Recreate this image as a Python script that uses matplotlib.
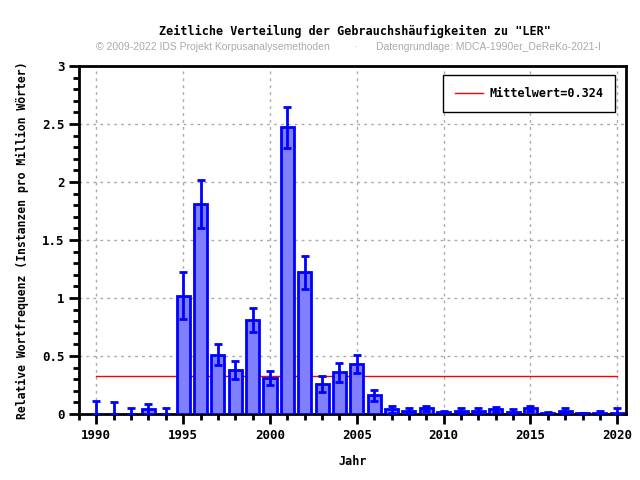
import numpy as np
import matplotlib
matplotlib.use('Agg')
import matplotlib.pyplot as plt
from matplotlib.ticker import MultipleLocator

years = list(range(1990, 2021))
werte = [0.0, 0.0, 0.0, 0.04, 0.0, 1.02, 1.81, 0.51, 0.38, 0.81,
         0.31, 2.47, 1.22, 0.26, 0.36, 0.43, 0.16, 0.04, 0.03, 0.05,
         0.02, 0.03, 0.03, 0.04, 0.02, 0.05, 0.01, 0.03, 0.005, 0.01,
         0.01]
fehler = [0.11, 0.10, 0.05, 0.05, 0.05, 0.20, 0.21, 0.09, 0.08, 0.10,
          0.06, 0.18, 0.14, 0.07, 0.08, 0.08, 0.05, 0.03, 0.02, 0.02,
          0.01, 0.02, 0.02, 0.02, 0.02, 0.02, 0.005, 0.02, 0.005, 0.02,
          0.04]
mittelwert = 0.324

mono = 'DejaVu Sans Mono'

fig = plt.figure(figsize=(6.4, 4.8), dpi=100)
ax = fig.add_axes([0.1234, 0.1375, 0.8547, 0.725])

unten = [min(e, w) for w, e in zip(werte, fehler)]
ax.bar(years, werte, width=0.75, color='#8080ff', edgecolor='#0000ff', linewidth=2, zorder=3)
ax.errorbar(years, werte, yerr=[unten, fehler], fmt='none', ecolor='#0000ff',
            elinewidth=2, capsize=3, capthick=2, zorder=4)
ax.plot([1990, 2020], [mittelwert, mittelwert], color='red', linewidth=1,
        label='Mittelwert=0.324', zorder=2)

ax.set_xlim(1989, 2020.5)
ax.set_ylim(0, 3)
ax.xaxis.set_major_locator(MultipleLocator(5))
ax.xaxis.set_minor_locator(MultipleLocator(1))
ax.yaxis.set_minor_locator(MultipleLocator(0.1))
ax.set_yticks([0, 0.5, 1, 1.5, 2, 2.5, 3])
ax.set_yticklabels(['0', '0.5', '1', '1.5', '2', '2.5', '3'])
ax.tick_params(which='major', direction='out', length=7, width=2, labelsize=9)
ax.tick_params(which='minor', direction='out', length=4, width=2)
for lab in ax.get_xticklabels() + ax.get_yticklabels():
    lab.set_fontfamily(mono)
    lab.set_fontweight('bold')
ax.grid(True, which='major', linestyle=(0, (2, 3)), color='#aaaaaa', linewidth=1, zorder=0)
for s in ax.spines.values():
    s.set_linewidth(2)

ax.set_xlabel('Jahr', fontfamily=mono, fontweight='bold', fontsize=8.5, labelpad=10)
ax.set_ylabel('Relative Wortfrequenz (Instanzen pro Million Wörter)', fontfamily=mono,
              fontweight='bold', fontsize=8.3, labelpad=9)

leg = ax.legend(loc='upper right', prop={'family': mono, 'weight': 'bold', 'size': 8.5},
                fancybox=False, framealpha=1, edgecolor='black', borderpad=1.0,
                handlelength=2.4, handletextpad=0.5, bbox_to_anchor=(0.991, 0.991))
leg.get_frame().set_linewidth(1)

fig.text(0.555, 0.927, 'Zeitliche Verteilung der Gebrauchshäufigkeiten zu "LER"',
         ha='center', fontfamily=mono, fontweight='bold', fontsize=8.5)
fig.text(0.15, 0.895, '© 2009-2022 IDS Projekt Korpusanalysemethoden', ha='left',
         fontfamily='Liberation Sans', fontsize=7.5, color='#aaaaaa')
fig.text(0.555, 0.895, '·', ha='center', fontfamily='Liberation Sans', fontsize=7.5, color='#aaaaaa')
fig.text(0.587, 0.895, 'Datengrundlage: MDCA-1990er_DeReKo-2021-I', ha='left',
         fontfamily='Liberation Sans', fontsize=7.5, color='#aaaaaa')

fig.savefig('out.png', dpi=100)
